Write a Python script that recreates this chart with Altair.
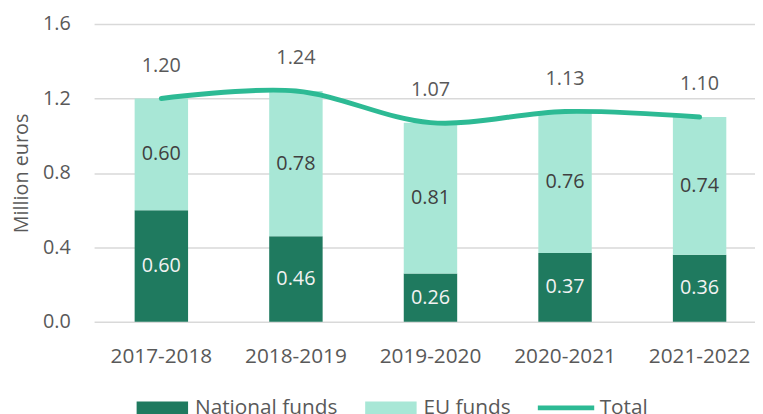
import altair as alt
import pandas as pd

seasons = ["2017-2018", "2018-2019", "2019-2020", "2020-2021", "2021-2022"]
national = [0.60, 0.46, 0.26, 0.37, 0.36]
eu = [0.60, 0.78, 0.81, 0.76, 0.74]
total = [1.20, 1.24, 1.07, 1.13, 1.10]
y_ticks = [0.0, 0.4, 0.8, 1.2, 1.6]

series = ["National funds", "EU funds"]
colors = ["#1f7a5f", "#a8e7d6"]
line_color = "#2dba94"
FONT = "Open Sans"
GRAY = "#595959"

rows = []
for s, n, e in zip(seasons, national, eu):
    rows.append({"season": s, "series": "National funds", "value": n, "ord": 0})
    rows.append({"season": s, "series": "EU funds", "value": e, "ord": 1})
bars_df = pd.DataFrame(rows)
tot_df = pd.DataFrame({"season": seasons, "total": total, "series": ["Total"] * len(seasons)})

x = alt.X("season:N", sort=seasons, title=None,
          scale=alt.Scale(range=[0, 680], paddingInner=0, paddingOuter=0),
          axis=alt.Axis(labelFontSize=21, labelFont=FONT, labelColor=GRAY, labelPadding=24,
                        ticks=False, tickSize=0, domain=False, labelAngle=0, grid=False))
y_scale = alt.Scale(domain=[0, 1.6], nice=False)

bars = alt.Chart(bars_df).mark_bar(size=54).encode(
    x=x,
    y=alt.Y("value:Q", stack="zero", scale=y_scale, title="Million euros",
            axis=alt.Axis(values=y_ticks, format=".1f", labelFontSize=20, labelFont=FONT,
                          labelColor=GRAY, labelPadding=24, ticks=False, tickSize=0,
                          domain=False, grid=True, gridColor="#d9d9d9", gridWidth=1.5,
                          titleFont=FONT, titleFontSize=20, titleColor=GRAY, titleFontWeight="normal",
                          titlePadding=11)),
    fill=alt.Fill("series:N", scale=alt.Scale(domain=series, range=colors),
                  legend=alt.Legend(title=None, orient="none", direction="horizontal",
                                    legendX=43, legendY=362,
                                    symbolType="M-1,-0.25H1V0.25H-1Z", symbolSize=2704,
                                    symbolStrokeWidth=0, symbolOpacity=1,
                                    labelFont=FONT, labelFontSize=21, labelColor=GRAY,
                                    labelOffset=7, columnPadding=28, labelLimit=300)),
    order=alt.Order("ord:Q", sort="ascending"),
)

labels = alt.Chart(bars_df).transform_stack(
    stack="value", groupby=["season"], sort=[alt.SortField("ord", order="ascending")],
    as_=["y0", "y1"]
).transform_calculate(
    mid="(datum.y0 + datum.y1) / 2"
).mark_text(font=FONT, fontSize=20, baseline="middle").encode(
    x=alt.X("season:N", sort=seasons),
    y=alt.Y("mid:Q", scale=y_scale),
    text=alt.Text("value:Q", format=".2f"),
    color=alt.condition(alt.datum.series == "National funds", alt.value("#f2f2f2"), alt.value("#404040")),
)

line = alt.Chart(tot_df).mark_line(strokeWidth=5, strokeCap="round", interpolate="cardinal").encode(
    x=alt.X("season:N", sort=seasons),
    y=alt.Y("total:Q", scale=y_scale),
    stroke=alt.Stroke("series:N", scale=alt.Scale(domain=["Total"], range=[line_color]),
                      legend=alt.Legend(title=None, orient="none", legendX=446, legendY=357,
                                        symbolType="stroke", symbolSize=3249, symbolStrokeWidth=5,
                                        labelFont=FONT, labelFontSize=21, labelColor=GRAY,
                                        labelOffset=3)),
)

tot_labels = alt.Chart(tot_df).mark_text(font=FONT, fontSize=20, color=GRAY, baseline="middle", dy=-33).encode(
    x=alt.X("season:N", sort=seasons),
    y=alt.Y("total:Q", scale=y_scale),
    text=alt.Text("total:Q", format=".2f"),
)

chart = alt.layer(bars, labels, line, tot_labels).resolve_scale(
    fill="independent", stroke="independent"
).properties(
    width=668, height=301,
    autosize=alt.AutoSizeParams(type="none"),
    padding={"left": 87, "top": 14, "right": 0, "bottom": 91},
).configure_view(stroke=None)

chart.save("out.html", embed_options={"renderer": "svg", "actions": False})
